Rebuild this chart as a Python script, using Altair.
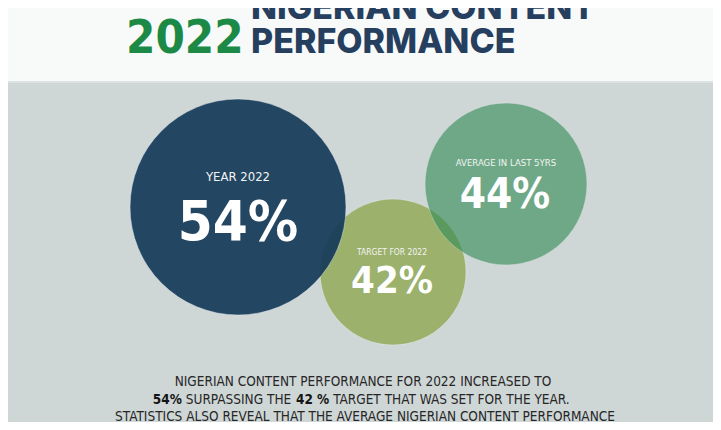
import altair as alt
import pandas as pd

# ---------------- data ----------------
labels = ["YEAR 2022", "TARGET FOR 2022", "AVERAGE IN LAST 5YRS"]
values = [54, 42, 44]
title_year = "2022"
title_lines = ["NIGERIAN CONTENT", "PERFORMANCE"]
body_line1 = "NIGERIAN CONTENT PERFORMANCE FOR 2022 INCREASED TO"
body_line2 = ["54%", "SURPASSING THE", "42 %", "TARGET THAT WAS SET FOR THE YEAR."]
body_line2_bold = [True, False, True, False]
body_line3 = "STATISTICS ALSO REVEAL  THAT THE AVERAGE NIGERIAN CONTENT PERFORMANCE"

# ---------------- layout (reference pixel space) ----------------
W, H = 721, 430
M = 8
circ_cx = [238, 393, 506]
circ_cy = [207, 272, 184]
circ_r = [108, 73, 81]
circ_color = ["#153a5a", "#9bb16c", "#358d58"]
circ_opacity = [0.92, 1.0, 0.62]
draw_order = [1, 2, 0]

COND = "DejaVu Sans Condensed, sans-serif"
HEAD = "Inter, Open Sans, sans-serif"
BODY_FS = 13.5

# approximate advance widths (em) of DejaVu Sans; condensed = 0.9x
_REG = dict(zip("ABCDEFGHIJKLMNOPQRSTUVWXYZ",
                [.684, .686, .698, .770, .632, .575, .775, .752, .295, .295, .656, .557, .863,
                 .748, .787, .603, .787, .695, .635, .611, .732, .684, .989, .685, .611, .685]))
_REG.update({" ": .318, ".": .318, "%": .950})
_REG.update({d: .636 for d in "0123456789"})
_BOLD_SCALE = 1.1


def text_w(s, fs, bold=False):
    w = 0.0
    for ch in s:
        if bold and ch.isdigit():
            w += .696
        elif bold and ch == "%":
            w += 1.002
        elif bold and ch == " ":
            w += .348
        else:
            w += _REG.get(ch, .6) * (_BOLD_SCALE if bold else 1.0)
    return w * 0.9 * fs


xs = alt.Scale(domain=[M, W - M], range=[0, W - 2 * M])
ys = alt.Scale(domain=[M, H - M], range=[0, H - 2 * M])


def X(f="x"):
    return alt.X(f"{f}:Q", scale=xs, axis=None)


def Y(f="y"):
    return alt.Y(f"{f}:Q", scale=ys, axis=None)


# header band
header = alt.Chart(pd.DataFrame({"x": [0], "x2": [W], "y": [0], "y2": [81]})).mark_rect(
    color="#f8fafa"
).encode(x=X(), x2="x2:Q", y=Y(), y2="y2:Q")
header_line = alt.Chart(pd.DataFrame({"x": [0], "x2": [W], "y": [81], "y2": [83]})).mark_rect(
    color="#dde2e2"
).encode(x=X(), x2="x2:Q", y=Y(), y2="y2:Q")

layers = [header, header_line]

# circles
for i in draw_order:
    d = pd.DataFrame({"label": [labels[i]], "value": [values[i]], "x": [circ_cx[i]],
                      "y": [circ_cy[i]], "s": [(2 * circ_r[i]) ** 2]})
    layers.append(
        alt.Chart(d).mark_circle(color=circ_color[i], opacity=circ_opacity[i],
                                 stroke="#e6eef2", strokeWidth=0.8, strokeOpacity=0.6)
        .encode(x=X(), y=Y(), size=alt.Size("s:Q", scale=None, legend=None))
    )

# circle texts
lab_df = pd.DataFrame({
    "text": labels,
    "x": [238, 392, 506],
    "y": [181, 255, 166],
    "fs": [13, 8.5, 9.5],
})
val_df = pd.DataFrame({
    "text": [f"{v}%" for v in values],
    "x": [238, 392, 505],
    "y": [240, 293, 208],
    "fs": [56, 38, 42],
})
layers.append(alt.Chart(lab_df).mark_text(font=COND, color="#f2f4f2", align="center",
                                          baseline="alphabetic")
              .encode(x=X(), y=Y(), text="text:N",
                      size=alt.Size("fs:Q", scale=None, legend=None)))
layers.append(alt.Chart(val_df).mark_text(font=COND, fontWeight="bold", color="#ffffff",
                                          align="center", baseline="alphabetic")
              .encode(x=X(), y=Y(), text="text:N",
                      size=alt.Size("fs:Q", scale=None, legend=None)))

# title
yr_df = pd.DataFrame({"text": [title_year], "x": [126], "y": [53]})
layers.append(alt.Chart(yr_df).mark_text(font=COND, fontWeight="bold", fontSize=47,
                                         color="#1c8a46", align="left", baseline="alphabetic")
              .encode(x=X(), y=Y(), text="text:N"))
tl_df = pd.DataFrame({"text": title_lines, "x": [251, 251], "y": [19, 53]})
layers.append(alt.Chart(tl_df).mark_text(font=HEAD, fontWeight=800, fontSize=34,
                                         color="#263f5f", align="left", baseline="alphabetic")
              .encode(x=X(), y=Y(), text="text:N"))

# body text
CX = 363
b_df = pd.DataFrame({"text": [body_line1, body_line3], "x": [CX, 365], "y": [386, 421]})
layers.append(alt.Chart(b_df).mark_text(font=COND, fontSize=BODY_FS, color="#262626",
                                        align="center", baseline="alphabetic")
              .encode(x=X(), y=Y(), text="text:N"))

space_w = text_w(" ", BODY_FS)
seg_w = [text_w(t, BODY_FS, b) for t, b in zip(body_line2, body_line2_bold)]
total = sum(seg_w) + space_w * (len(seg_w) - 1)
start = CX - total / 2
seg_x = []
for w in seg_w:
    seg_x.append(start)
    start += w + space_w
reg_df = pd.DataFrame({"text": [t for t, b in zip(body_line2, body_line2_bold) if not b],
                       "x": [x for x, b in zip(seg_x, body_line2_bold) if not b], "y": 403.5})
bold_df = pd.DataFrame({"text": [t for t, b in zip(body_line2, body_line2_bold) if b],
                        "x": [x for x, b in zip(seg_x, body_line2_bold) if b], "y": 403.5})
layers.append(alt.Chart(reg_df).mark_text(font=COND, fontSize=BODY_FS, color="#262626",
                                          align="left", baseline="alphabetic")
              .encode(x=X(), y=Y(), text="text:N"))
layers.append(alt.Chart(bold_df).mark_text(font=COND, fontSize=BODY_FS, fontWeight="bold",
                                           color="#141414", align="left", baseline="alphabetic")
              .encode(x=X(), y=Y(), text="text:N"))

chart = alt.layer(*layers).properties(
    width=W - 2 * M, height=H - 2 * M, background="#cfd6d6",
    autosize=alt.AutoSizeParams(type="none"), padding=0
).configure_view(stroke=None)

chart.save("out.html", embed_options={"renderer": "svg", "actions": False})
